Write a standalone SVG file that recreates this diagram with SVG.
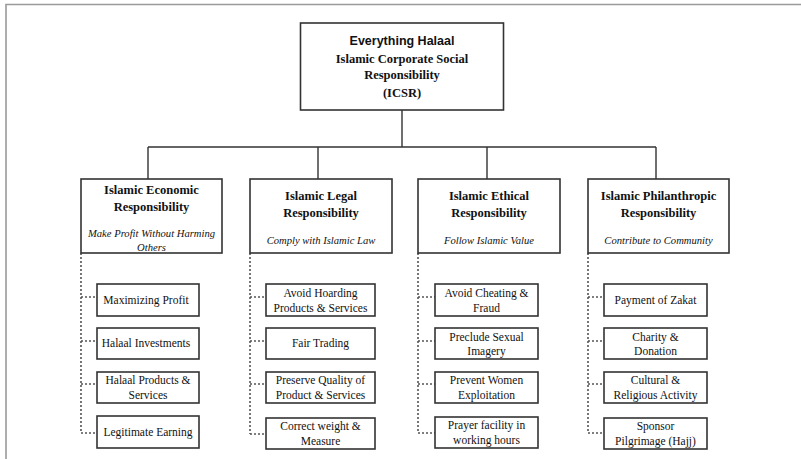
<svg xmlns="http://www.w3.org/2000/svg" width="801" height="459" viewBox="0 0 801 459">
<style>
.box{fill:#fff;stroke:#333;stroke-width:1.6}
.ln{fill:none;stroke:#333;stroke-width:1.4}
.dot{fill:none;stroke:#555;stroke-width:1.6;stroke-dasharray:2,2}
.frame{fill:none;stroke:#9a9a9a;stroke-width:1.6}
text{font-family:"Liberation Serif","Times New Roman",serif;fill:#111;text-anchor:middle}
.ttl{font-family:"Liberation Sans",Arial,sans-serif;font-weight:bold;font-size:12.5px}
.hd{font-weight:bold;font-size:12.5px}
.it{font-style:italic;font-size:10.6px}
.lf{font-size:11.5px}
</style>
<rect width="801" height="459" fill="#fff"/>
<path class="frame" d="M6,459 V4.5 H801"/>
<g id="connectors">
<path class="ln" d="M402,110 V147 M148,147 H656 M148,147 V179 M318,147 V179 M487,147 V179 M656,147 V179"/>
<path class="dot" d="M81,253 V433 M81,297 H97 M81,341 H97 M81,384 H97 M81,433 H97"/>
<path class="dot" d="M250,253 V434 M250,297 H266 M250,341 H266 M250,384 H266 M250,434 H266"/>
<path class="dot" d="M418,253 V433 M418,297 H435 M418,341 H435 M418,384 H435 M418,433 H435"/>
<path class="dot" d="M588,253 V433 M588,297 H604 M588,341 H604 M588,384 H604 M588,433 H604"/>
</g>
<g id="root">
<rect class="box" x="300.5" y="23" width="203" height="87"/>
<text class="ttl" x="402" y="45">Everything Halaal</text>
<text class="hd" x="402" y="63">Islamic Corporate Social</text>
<text class="hd" x="402" y="79">Responsibility</text>
<text class="hd" x="402" y="97">(ICSR)</text>
</g>
<g id="economic">
<rect class="box" x="81" y="179" width="141" height="74"/>
<text class="hd" x="151.5" y="194">Islamic Economic</text>
<text class="hd" x="151.5" y="211">Responsibility</text>
<text class="it" x="151.5" y="237">Make Profit Without Harming</text>
<text class="it" x="151.5" y="251">Others</text>
</g>
<g id="legal">
<rect class="box" x="250" y="179" width="142" height="74"/>
<text class="hd" x="321" y="200">Islamic Legal</text>
<text class="hd" x="321" y="217">Responsibility</text>
<text class="it" x="321" y="244">Comply with Islamic Law</text>
</g>
<g id="ethical">
<rect class="box" x="418" y="179" width="142" height="74"/>
<text class="hd" x="489" y="200">Islamic Ethical</text>
<text class="hd" x="489" y="217">Responsibility</text>
<text class="it" x="489" y="244">Follow Islamic Value</text>
</g>
<g id="philanthropic">
<rect class="box" x="588" y="179" width="141" height="74"/>
<text class="hd" x="658.5" y="200">Islamic Philanthropic</text>
<text class="hd" x="658.5" y="217">Responsibility</text>
<text class="it" x="658.5" y="244">Contribute to Community</text>
</g>
<g id="e1"><rect class="box" x="97" y="284" width="102" height="32"/><text class="lf" x="146" y="304">Maximizing  Profit</text></g>
<g id="e2"><rect class="box" x="97" y="328" width="102" height="31"/><text class="lf" x="146" y="347">Halaal Investments</text></g>
<g id="e3"><rect class="box" x="97" y="372" width="102" height="31"/><text class="lf" x="148" y="384">Halaal Products &amp;</text><text class="lf" x="148" y="399">Services</text></g>
<g id="e4"><rect class="box" x="97" y="416" width="102" height="32"/><text class="lf" x="148" y="436">Legitimate  Earning</text></g>
<g id="l1"><rect class="box" x="266" y="284" width="109" height="32"/><text class="lf" x="320.5" y="297">Avoid  Hoarding</text><text class="lf" x="320.5" y="312">Products &amp; Services</text></g>
<g id="l2"><rect class="box" x="266" y="328" width="109" height="31"/><text class="lf" x="320.5" y="347">Fair  Trading</text></g>
<g id="l3"><rect class="box" x="266" y="372" width="109" height="31"/><text class="lf" x="320.5" y="384">Preserve Quality  of</text><text class="lf" x="320.5" y="399">Product &amp; Services</text></g>
<g id="l4"><rect class="box" x="266" y="418" width="109" height="31"/><text class="lf" x="320.5" y="430">Correct weight  &amp;</text><text class="lf" x="320.5" y="445">Measure</text></g>
<g id="t1"><rect class="box" x="435" y="284" width="103" height="32"/><text class="lf" x="486.5" y="297">Avoid Cheating  &amp;</text><text class="lf" x="486.5" y="312">Fraud</text></g>
<g id="t2"><rect class="box" x="435" y="328" width="103" height="31"/><text class="lf" x="486.5" y="341">Preclude Sexual</text><text class="lf" x="486.5" y="355">Imagery</text></g>
<g id="t3"><rect class="box" x="435" y="372" width="103" height="31"/><text class="lf" x="486.5" y="384">Prevent Women</text><text class="lf" x="486.5" y="399">Exploitation</text></g>
<g id="t4"><rect class="box" x="435" y="417" width="103" height="31"/><text class="lf" x="486.5" y="429">Prayer facility  in</text><text class="lf" x="486.5" y="444">working hours</text></g>
<g id="p1"><rect class="box" x="604" y="284" width="103" height="32"/><text class="lf" x="655.5" y="304">Payment  of Zakat</text></g>
<g id="p2"><rect class="box" x="604" y="328" width="103" height="31"/><text class="lf" x="655.5" y="341">Charity  &amp;</text><text class="lf" x="655.5" y="355">Donation</text></g>
<g id="p3"><rect class="box" x="604" y="372" width="103" height="31"/><text class="lf" x="655.5" y="384">Cultural  &amp;</text><text class="lf" x="655.5" y="399">Religious  Activity</text></g>
<g id="p4"><rect class="box" x="604" y="418" width="103" height="31"/><text class="lf" x="655.5" y="430">Sponsor</text><text class="lf" x="655.5" y="445">Pilgrimage  (Hajj)</text></g>
</svg>
